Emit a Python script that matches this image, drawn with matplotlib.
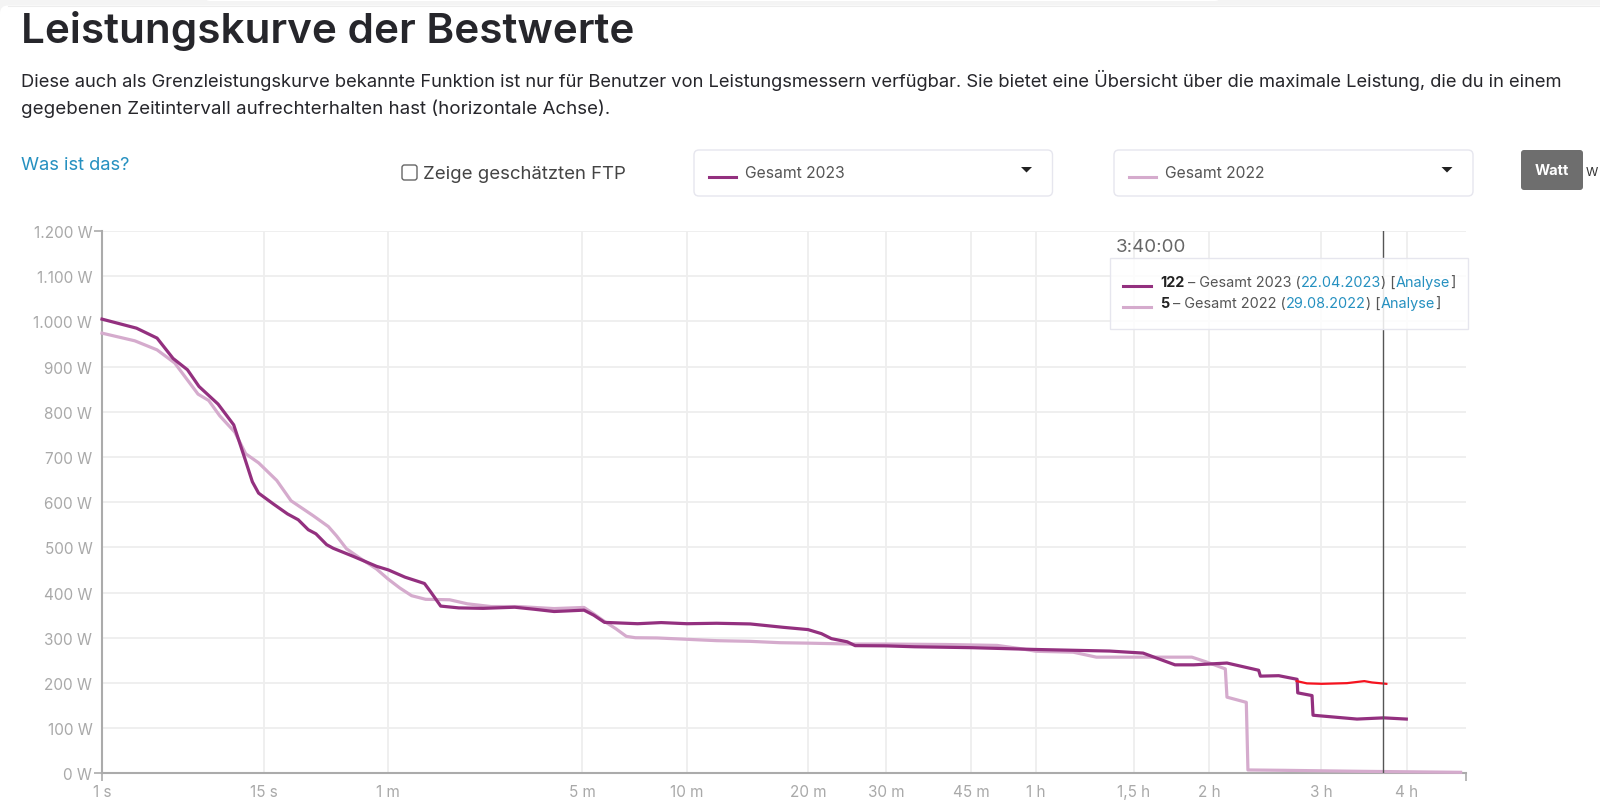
import numpy as np
import matplotlib
matplotlib.use("Agg")
import matplotlib.pyplot as plt
from matplotlib.patches import FancyBboxPatch, Rectangle

plt.rcParams['font.family'] = ['Inter', 'DejaVu Sans']

# duration in seconds, power in watts
t_2023 = [1, 1.78, 2.51, 3.28, 4.17, 5.06, 6.96, 9.04, 10.9, 12.35, 13.7, 16.65, 19.5, 22, 24.6,
          26.8, 30.2, 32.5, 40.7, 52.8, 60.2, 69.1, 81.2, 85.6, 92.9, 108, 132, 171.6, 202, 238,
          304, 324, 348, 433, 506, 600, 711, 862, 1042, 1200, 1287, 1355, 1471, 1533, 1800, 2059,
          2700, 3353, 3600, 4883, 5591, 6320, 6794, 7684, 8618, 8672, 9268, 9906, 9928, 10455,
          10493, 12182, 13318, 14367]
w_2023 = [1005, 985, 963, 918, 893, 856, 817, 771, 696, 645, 620, 596, 574, 561, 539,
          530, 506, 498, 480, 458, 450, 434, 420, 401, 370, 366, 365, 367.5, 363, 358,
          361, 350, 334, 331, 333.5, 331, 332, 330.5, 323, 318, 309, 298, 291, 282.5, 282, 280,
          278, 275, 274, 270.5, 266, 240, 240, 244, 228, 215, 216, 208, 178, 172,
          128.5, 120, 122.7, 120]

t_2022 = [1, 1.73, 2.51, 3.37, 4.98, 5.95, 7.16, 9.2, 11.05, 13.7, 17.3, 20.3, 26, 30.8, 33.8,
          37.7, 43.9, 52.8, 60, 66.2, 73, 82, 100, 116, 141, 177, 238, 304, 324, 348, 375, 402,
          427, 493, 600, 711, 862, 1021, 1200, 1501, 1800, 2391, 3027, 3353, 3600, 4199, 4622,
          5591, 6742, 7144, 7638, 7684, 8241, 8290, 9432, 12318, 17100]
w_2022 = [974, 957, 937, 908, 839, 825, 791, 755, 707, 687, 648, 603, 570, 546, 525,
          497, 476, 452, 430, 410, 393, 385, 384, 375, 369, 369, 364.5, 367, 353, 336, 320, 303,
          300, 299.5, 296.5, 293.5, 292, 289, 288, 286, 286, 285, 283, 276, 270, 268, 257,
          257, 257, 246, 231, 168.5, 157, 7.4, 6.6, 4.4, 2.2]

t_ftp = [9889, 10263, 10836, 11781, 12485, 12809, 13439]
w_ftp = [204, 199, 198, 199.5, 204, 201, 198]

x_ticks = [1, 15, 60, 300, 600, 1200, 1800, 2700, 3600, 5400, 7200, 10800, 14400]
x_labels = ["1 s", "15 s", "1 m", "5 m", "10 m", "20 m", "30 m", "45 m", "1 h", "1,5 h", "2 h", "3 h", "4 h"]
y_ticks = [0, 100, 200, 300, 400, 500, 600, 700, 800, 900, 1000, 1100, 1200]
y_labels = ["0 W", "100 W", "200 W", "300 W", "400 W", "500 W", "600 W", "700 W", "800 W", "900 W",
            "1.000 W", "1.100 W", "1.200 W"]
x_end = 17370
cursor_t = 13300

# the site's time axis is not a plain log axis, so it gets its own scale
scale_t = np.log(x_ticks + [x_end])
scale_px = np.array([102, 264, 388, 582, 687, 808, 886, 971.4, 1036, 1134, 1209, 1321, 1407, 1465.5])


def forward(v):
    return np.interp(np.log(np.maximum(v, 1e-3)), scale_t, scale_px)


def inverse(p):
    return np.exp(np.interp(p, scale_px, scale_t))


DARK = "#93307f"
LIGHT = "#d5abcd"
GRID = "#eeeeee"
AXIS = "#ababab"
TICK = "#a9a9a9"
LINK = "#2590c0"
TEXT = "#26262b"

W, H = 1600, 812
fig = plt.figure(figsize=(16, 8.12), dpi=100, facecolor="white")

# page background behind everything
bg = fig.add_axes([0, 0, 1, 1], zorder=0)
bg.set_xlim(0, W)
bg.set_ylim(H, 0)
bg.axis("off")
bg.add_patch(Rectangle((0, 0), W, 20, color="#f4f4f4", lw=0))
bg.add_patch(FancyBboxPatch((205, -6), 1015, 8, boxstyle="round,pad=0,rounding_size=5", fc="white", ec="none"))
bg.add_patch(FancyBboxPatch((0, 6.5), W + 20, H + 20, boxstyle="round,pad=0,rounding_size=8", fc="white", ec="none"))
bg.plot([8, W], [6.5, 6.5], color="#ededed", lw=0.8)

ax = fig.add_axes([102 / W, 1 - 774.3 / H, (1465.5 - 102) / W, (774.3 - 232) / H], zorder=1)
ax.patch.set_visible(False)
ax.set_xscale("function", functions=(forward, inverse))
ax.set_xlim(1, x_end)
ax.set_ylim(0, 1200)
ax.xaxis.remove_overlapping_locs = False
ax.yaxis.remove_overlapping_locs = False
ax.set_xticks(x_ticks)
ax.set_xticklabels(x_labels)
ax.set_yticks(y_ticks)
ax.set_yticklabels(y_labels)
ax.set_xticks([1, x_end], minor=True)
ax.set_yticks([0, 1200], minor=True)
ax.xaxis.set_minor_formatter(matplotlib.ticker.NullFormatter())
ax.yaxis.set_minor_formatter(matplotlib.ticker.NullFormatter())
ax.tick_params(axis="both", which="major", length=0, labelsize=11, labelcolor=TICK)
ax.tick_params(axis="x", which="major", pad=8)
ax.tick_params(axis="y", which="major", pad=7)
ax.tick_params(axis="both", which="minor", length=5.8, width=1.2, color=AXIS)
ax.grid(True, which="major", color=GRID, lw=1.3)
ax.set_axisbelow(True)
for s in ["top", "right"]:
    ax.spines[s].set_visible(False)
for s in ["left", "bottom"]:
    ax.spines[s].set_color(AXIS)
    ax.spines[s].set_linewidth(1.5)

ax.plot(t_2022, w_2022, color=LIGHT, lw=2.3, solid_joinstyle="round", zorder=3, clip_on=False)
ax.plot(t_2023, w_2023, color=DARK, lw=2.3, solid_joinstyle="round", zorder=4, clip_on=False)
ax.plot(t_ftp, w_ftp, color="#f5131f", lw=1.6, zorder=5)
ax.axvline(cursor_t, color="#555555", lw=1.0, zorder=6)

# page elements around the chart, in pixel coordinates
ui = fig.add_axes([0, 0, 1, 1], zorder=5)
ui.set_xlim(0, W)
ui.set_ylim(H, 0)
ui.axis("off")

ui.text(21, 43, "Leistungskurve der Bestwerte", fontsize=30.4, color=TEXT, fontweight="semibold", va="baseline")
ui.text(21, 87, "Diese auch als Grenzleistungskurve bekannte Funktion ist nur für Benutzer von Leistungsmessern verfügbar. "
        "Sie bietet eine Übersicht über die maximale Leistung, die du in einem", fontsize=13.25, color=TEXT, va="baseline")
ui.text(21, 114, "gegebenen Zeitintervall aufrechterhalten hast (horizontale Achse).", fontsize=13.5, color=TEXT, va="baseline")
ui.text(21, 170, "Was ist das?", fontsize=13.2, color=LINK, va="baseline")

ui.add_patch(FancyBboxPatch((402, 166), 15, 15, boxstyle="round,pad=0,rounding_size=2.5", fc="white", ec="#666666", lw=1))
ui.text(423, 179, "Zeige geschätzten FTP", fontsize=13.4, color="#444444", va="baseline")

for x0, x1, name, col in [(694, 1052.5, "Gesamt 2023", DARK), (1114, 1473, "Gesamt 2022", LIGHT)]:
    ui.add_patch(FancyBboxPatch((x0, 151), x1 - x0, 46, boxstyle="round,pad=0,rounding_size=5", fc="white", ec="#e6e6ee", lw=1))
    ui.plot([x0 + 15, x0 + 42], [178, 178], color=col, lw=2.2)
    ui.text(x0 + 51, 178, name, fontsize=11.3, color="#555555", va="baseline")
    ui.fill([x1 - 31.5, x1 - 20.5, x1 - 26], [168, 168, 173.5], color="#222222", lw=0)

ui.add_patch(FancyBboxPatch((1521, 151), 62, 40, boxstyle="round,pad=0,rounding_size=3", fc="#6e6e6e", ec="none"))
ui.text(1552, 171, "Watt", fontsize=10.5, color="white", fontweight="bold", ha="center", va="center")
ui.text(1586, 176, "W", fontsize=9, color="#333333", va="baseline")

ui.text(1116, 252, "3:40:00", fontsize=13.5, color="#666666", va="baseline")
ui.add_patch(Rectangle((1110, 259), 358, 71, fc=(1, 1, 1, 0.85), ec="#e6e6ee", lw=1))
rows = [(287, 288, DARK, "122", "22.04.2023", 1160), (308, 309, LIGHT, "5", "29.08.2022", 1160)]
fig.canvas.draw()
rend = fig.canvas.get_renderer()
inv = ui.transData.inverted()


def put(x, y, s, **kw):
    # text run placed after the previous one, returns the end position
    t = ui.text(x, y, s, fontsize=10.4, va="baseline", **kw)
    box = t.get_window_extent(rend)
    return inv.transform((box.x1, box.y0))[0]


for ly, ty, col, val, date, x in rows:
    ui.plot([1123, 1151], [ly, ly], color=col, lw=2.2)
    x = put(x, ty - 1, val, color="#222222", fontweight="bold")
    x = put(x, ty - 1, " – Gesamt " + ("2023" if val == "122" else "2022") + " (", color="#555555")
    x = put(x, ty - 1, date, color=LINK)
    x = put(x, ty - 1, ") [", color="#555555")
    x = put(x, ty - 1, "Analyse", color=LINK)
    x = put(x, ty - 1, "]", color="#555555")

fig.savefig("out.png", dpi=100)
